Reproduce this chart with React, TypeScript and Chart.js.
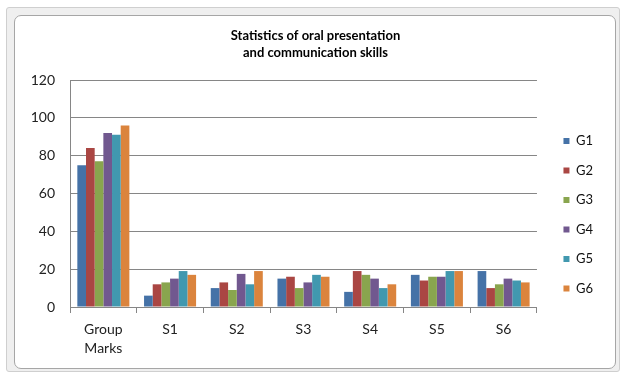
import React, { useEffect, useRef } from "react";
import { Chart, registerables } from "chart.js";

Chart.register(...registerables);

const categories: (string | string[])[] = [["Group", "Marks"], "S1", "S2", "S3", "S4", "S5", "S6"];
const seriesNames = ["G1", "G2", "G3", "G4", "G5", "G6"];
const g1 = [75, 6, 10, 15, 8, 17, 19];
const g2 = [84, 12, 13, 16, 19, 14, 10];
const g3 = [77, 13, 9, 10, 17, 16, 12];
const g4 = [92, 15, 17.5, 13, 15, 16, 15];
const g5 = [91, 19, 12, 17, 10, 19, 14];
const g6 = [96, 17, 19, 16, 12, 19, 13];
const seriesValues = [g1, g2, g3, g4, g5, g6];
const seriesColors = ["#4572A7", "#AA4643", "#89A54E", "#71588F", "#4198AF", "#DB843D"];
const yTicks = { min: 0, max: 120, step: 20 };
const titleLines = ["Statistics of oral presentation", "and communication skills"];

export default function App() {
  const ref = useRef<HTMLCanvasElement | null>(null);
  useEffect(() => {
    if (!ref.current) return;
    const font = "Lato";
    const chart = new Chart(ref.current, {
      type: "bar",
      data: {
        labels: categories,
        datasets: seriesNames.map((n, i) => ({
          label: n,
          data: seriesValues[i],
          backgroundColor: seriesColors[i],
          borderWidth: 0,
          barPercentage: 1,
          categoryPercentage: 0.78,
        })),
      },
      options: {
        animation: false,
        responsive: false,
        maintainAspectRatio: false,
        layout: { autoPadding: false, padding: { left: 28, right: 18, top: 15, bottom: 9 } },
        plugins: {
          title: {
            display: true,
            text: titleLines,
            color: "#000",
            font: { family: font, size: 13, weight: "bold", lineHeight: 16.5 / 13 },
            padding: { top: 13, bottom: 19 },
          },
          legend: {
            position: "right",
            title: { display: true, text: " ", font: { size: 10, lineHeight: 1 }, padding: { top: 20, bottom: 19.5 } },
            labels: {
              boxWidth: 6,
              boxHeight: 6,
              padding: 16.5,
              color: "#111",
              font: { family: font, size: 13 },
            },
          },
          tooltip: { enabled: false },
        },
        scales: {
          x: {
            grid: { display: true, drawOnChartArea: false, drawTicks: true, tickLength: 6, color: "#868686" },
            border: { display: true, color: "#868686" },
            ticks: {
              color: "#222",
              font: { family: font, size: 14, lineHeight: 19 / 14 },
              padding: 7,
              maxRotation: 0,
              autoSkip: false,
            },
          },
          y: {
            min: yTicks.min,
            max: yTicks.max,
            ticks: { stepSize: yTicks.step, color: "#222", font: { family: font, size: 14 }, padding: 15 },
            grid: { color: "#868686", drawTicks: false },
            border: { display: true, color: "#868686" },
            afterFit: (s: any) => {
              s.width = 42;
            },
          },
          yPad: {
            type: "linear",
            position: "right",
            display: true,
            grid: { display: false, drawTicks: false },
            ticks: { display: false },
            border: { display: false },
            afterFit: (s: any) => {
              s.width = 10;
            },
          },
        },
      } as any,
    });
    return () => chart.destroy();
  }, []);

  return (
    <div style={{ position: "absolute", left: 0, top: 0, width: 621, height: 374, background: "#fff" }}>
      <div
        style={{
          position: "absolute",
          left: 6,
          top: 7,
          width: 612,
          height: 363,
          background: "#efefef",
          border: "1px solid #cfcfcf",
          borderRadius: 3,
        }}
      />
      <div
        style={{
          position: "absolute",
          left: 14,
          top: 15,
          width: 600,
          height: 352,
          background: "#fff",
          border: "1px solid #a6a6a6",
          borderRadius: 7,
        }}
      />
      <canvas ref={ref} width={621} height={374} style={{ position: "absolute", left: 0, top: 0, width: 621, height: 374 }} />
    </div>
  );
}
